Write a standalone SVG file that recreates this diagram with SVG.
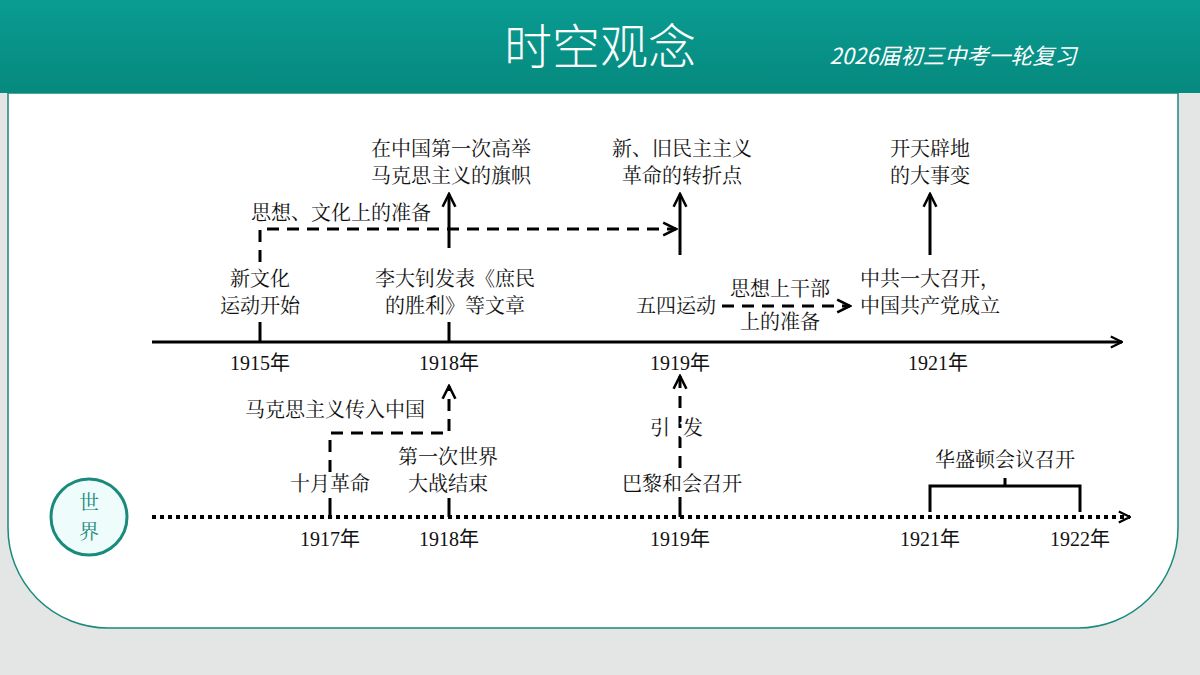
<svg xmlns="http://www.w3.org/2000/svg" width="1200" height="675" viewBox="0 0 1200 675">
<defs>
<linearGradient id="hd" x1="0" y1="0" x2="0" y2="1"><stop offset="0" stop-color="#0a9c92"/><stop offset="1" stop-color="#06897e"/></linearGradient>
<marker id="ah" viewBox="0 0 10 10" refX="9" refY="5" markerWidth="16" markerHeight="16" orient="auto" markerUnits="userSpaceOnUse"><path d="M1,1 L9,5 L1,9" fill="none" stroke="#000" stroke-width="1.6"/></marker>
<marker id="ab" viewBox="0 0 10 10" refX="9" refY="5" markerWidth="14" markerHeight="14" orient="auto" markerUnits="userSpaceOnUse"><path d="M1,1 L9,5 L1,9" fill="none" stroke="#000" stroke-width="1.6"/></marker>
</defs>
<style>
.t{font-family:"Noto Serif CJK SC","Noto Sans CJK SC","Liberation Serif",serif;font-size:20px;fill:#111;text-anchor:middle}
.y{font-family:"Liberation Serif","Noto Sans CJK SC",serif;font-size:20px;fill:#111;text-anchor:middle}
.s{stroke:#000;stroke-width:3;fill:none}
.d{stroke:#000;stroke-width:3;fill:none;stroke-dasharray:12 8}
</style>
<rect width="1200" height="675" fill="#e4e6e5"/>
<path d="M8,93 H1178 V528 A100,100 0 0 1 1078,628 H108 A100,100 0 0 1 8,528 Z" fill="#fff" stroke="#1a8a7c" stroke-width="1.5"/>
<rect x="0" y="0" width="1200" height="93" fill="url(#hd)"/>
<text x="600" y="64" font-family="Noto Sans CJK SC,sans-serif" font-size="48" fill="#fff" text-anchor="middle" font-weight="300">时空观念</text>
<text x="953" y="64" font-family="Noto Sans CJK SC,sans-serif" font-size="22" fill="#fff" text-anchor="middle" font-style="italic">2026届初三中考一轮复习</text>

<g id="connectors">
<line x1="152" y1="342" x2="1122" y2="342" class="s" marker-end="url(#ab)"/>
<line x1="152" y1="517" x2="1130" y2="517" stroke="#000" stroke-width="4" stroke-dasharray="4 4" marker-end="url(#ab)"/>
<line x1="260" y1="322" x2="260" y2="342" class="s"/>
<path d="M260,262 V229 H676" class="d" marker-end="url(#ah)"/>
<line x1="449" y1="322" x2="449" y2="342" class="s"/>
<line x1="449" y1="248" x2="449" y2="194" class="s" marker-end="url(#ah)"/>
<line x1="680" y1="255" x2="680" y2="194" class="s" marker-end="url(#ah)"/>
<line x1="930" y1="255" x2="930" y2="194" class="s" marker-end="url(#ah)"/>
<line x1="722" y1="306" x2="850" y2="306" class="d" marker-end="url(#ah)"/>
<line x1="330" y1="498" x2="330" y2="517" class="s"/>
<path d="M330,472 V433 H449 V386" class="d" marker-end="url(#ah)"/>
<line x1="449" y1="498" x2="449" y2="517" class="s"/>
<line x1="680" y1="517" x2="680" y2="497" class="s"/>
<line x1="680" y1="468" x2="680" y2="376" class="d" stroke-dasharray="10 8" marker-end="url(#ah)"/>
<path d="M930,512 V486 H1080 V512 M1005,486 V478" class="s" stroke-width="2.5"/>
</g>

<g id="world"><circle cx="89" cy="517" r="38" fill="#effcfc" stroke="#1a8a7c" stroke-width="3"/>
<text x="89" y="510" class="t" style="fill:#1a8a7c">世</text><text x="89" y="539" class="t" style="fill:#1a8a7c">界</text></g>

<g id="years">
<text x="260" y="370" class="y">1915年</text><text x="449" y="370" class="y">1918年</text>
<text x="680" y="370" class="y">1919年</text><text x="938" y="370" class="y">1921年</text>
<text x="330" y="546" class="y">1917年</text><text x="449" y="546" class="y">1918年</text>
<text x="680" y="546" class="y">1919年</text><text x="930" y="546" class="y">1921年</text><text x="1080" y="546" class="y">1922年</text>
</g>
<g id="n1"><text x="260" y="286" class="t">新文化</text><text x="260" y="313" class="t">运动开始</text></g>
<g id="n2"><text x="341" y="220" class="t">思想、文化上的准备</text></g>
<g id="n3"><text x="451" y="156" class="t">在中国第一次高举</text><text x="451" y="183" class="t">马克思主义的旗帜</text></g>
<g id="n4"><text x="455" y="286" class="t">李大钊发表《庶民</text><text x="455" y="313" class="t">的胜利》等文章</text></g>
<g id="n5"><text x="682" y="156" class="t">新、旧民主主义</text><text x="682" y="183" class="t">革命的转折点</text></g>
<g id="n6"><text x="676" y="313" class="t">五四运动</text></g>
<g id="n7"><text x="780" y="296" class="t">思想上干部</text><text x="780" y="329" class="t">上的准备</text></g>
<g id="n8"><text x="930" y="156" class="t">开天辟地</text><text x="930" y="183" class="t">的大事变</text></g>
<g id="n9"><text x="930" y="286" class="t">中共一大召开，</text><text x="930" y="313" class="t">中国共产党成立</text></g>
<g id="n10"><text x="335" y="417" class="t">马克思主义传入中国</text></g>
<g id="n11"><text x="330" y="491" class="t">十月革命</text></g>
<g id="n12"><text x="448" y="464" class="t">第一次世界</text><text x="448" y="491" class="t">大战结束</text></g>
<g id="n13"><text x="660" y="435" class="t" style="paint-order:stroke;stroke:#fff;stroke-width:6">引</text><text x="693" y="435" class="t" style="paint-order:stroke;stroke:#fff;stroke-width:6">发</text></g>
<g id="n14"><text x="682" y="491" class="t">巴黎和会召开</text></g>
<g id="n15"><text x="1005" y="467" class="t">华盛顿会议召开</text></g>
</svg>
